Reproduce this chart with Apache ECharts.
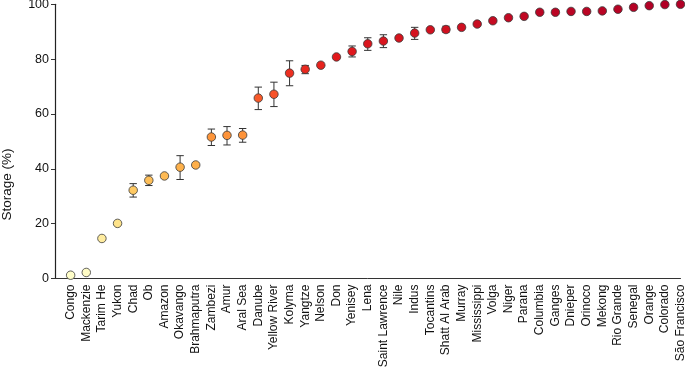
<!DOCTYPE html>
<html><head><meta charset="utf-8">
<script src="https://cdn.jsdelivr.net/npm/echarts@6/dist/echarts.min.js"></script>
<style>html,body{margin:0;padding:0;background:#fff}#c{width:685px;height:369px}</style>
</head><body><div id="c"></div>
<script>
const rivers = ['Congo','Mackenzie','Tarim He','Yukon','Chad','Ob','Amazon','Okavango','Brahmaputra','Zambezi','Amur','Aral Sea','Danube','Yellow River','Kolyma','Yangtze','Nelson','Don','Yenisey','Lena','Saint Lawrence','Nile','Indus','Tocantins','Shatt Al Arab','Murray','Mississippi','Volga','Niger','Parana','Columbia','Ganges','Dnieper','Orinoco','Mekong','Rio Grande','Senegal','Orange','Colorado','São Francisco'];
const storage = [1.2,2.2,14.6,20.1,32.2,35.8,37.4,40.6,41.4,51.6,52.2,52.3,65.8,67.2,74.9,76.3,77.8,80.8,82.8,85.6,86.6,87.7,89.5,90.7,90.8,91.6,92.8,94.0,95.1,95.6,97.1,97.1,97.4,97.4,97.6,98.2,98.9,99.5,99.9,100];
const errLow = [null,null,null,null,29.7,33.9,null,36.1,null,48.5,48.7,49.7,61.6,62.7,70.3,74.7,null,null,80.8,83.2,84.2,null,87.2,null,89.8,null,null,null,null,null,null,null,null,null,null,null,null,null,null,null];
const errHigh = [null,null,null,null,34.6,37.7,null,44.8,null,54.5,55.4,54.7,69.8,71.6,79.4,77.7,null,null,84.8,87.8,88.9,null,91.6,null,92.0,null,null,null,null,null,null,null,null,null,null,null,null,null,null,null];
const yTicks = [0,20,40,60,80,100];
const yTitle = 'Storage (%)';

const chart = echarts.init(document.getElementById('c'));
const pts = storage.map((v,i)=>[i+1,v]);
const errs = [];
storage.forEach((v,i)=>{ if(errLow[i]!=null) errs.push([i+1,errLow[i],errHigh[i]]); });

chart.setOption({
  animation:false,
  grid:{left:55,right:4.5,top:4.3,bottom:90.5,containLabel:false,outerBoundsMode:'none'},
  graphic:[{type:'text',left:0,top:'middle',x:0,y:-43,rotation:Math.PI/2,
    style:{text:yTitle,font:'13.5px "Liberation Sans", Arial',fill:'#111',align:'center',verticalAlign:'middle'},
    position:[8,141]}],
  xAxis:{type:'value',min:0,max:40,interval:1,
    axisLine:{show:true,onZero:false,lineStyle:{color:'#333',width:1}},
    axisTick:{show:false},splitLine:{show:false},
    axisLabel:{rotate:90,interval:0,fontFamily:'Liberation Sans, Arial',fontSize:12,color:'#111',margin:6,
      formatter:v=> (v>=1 && v<=rivers.length && Number.isInteger(v)) ? rivers[v-1] : '',showMinLabel:true,showMaxLabel:true}
  },
  yAxis:{type:'value',min:0,max:100,interval:20,
    axisLine:{show:true,onZero:false,lineStyle:{color:'#222',width:1.2}},
    axisTick:{show:true,length:4,lineStyle:{color:'#333'}},
    splitLine:{show:false},
    axisLabel:{fontFamily:'Liberation Sans, Arial',fontSize:12.5,color:'#111',margin:6,
      formatter:v=> yTicks.includes(v)? String(v):''}
  },
  visualMap:{show:false,type:'continuous',min:0,max:100,seriesIndex:1,dimension:1,
    inRange:{color:['#ffffcc','#fff3b0','#fee38a','#fed06a','#feb24c','#fd9a3c','#fd7a32','#f44325','#e31a1c','#d3121f','#b10026']}},
  series:[
    {type:'custom',z:1,data:errs,renderItem:(params,api)=>{
      const x=api.value(0);
      const lo=api.coord([x,api.value(1)]);
      const hi=api.coord([x,api.value(2)]);
      const w=3.7;
      const st={stroke:'#333',lineWidth:1};
      return {type:'group',children:[
        {type:'line',shape:{x1:lo[0],y1:lo[1],x2:hi[0],y2:hi[1]},style:st},
        {type:'line',shape:{x1:lo[0]-w,y1:lo[1],x2:lo[0]+w,y2:lo[1]},style:st},
        {type:'line',shape:{x1:hi[0]-w,y1:hi[1],x2:hi[0]+w,y2:hi[1]},style:st}
      ]};
    }},
    {type:'scatter',z:3,data:pts,symbol:'circle',symbolSize:8.5,clip:false,
      itemStyle:{borderColor:'#3a3a3a',borderWidth:0.8,opacity:1}}
  ]
});
</script></body></html>
